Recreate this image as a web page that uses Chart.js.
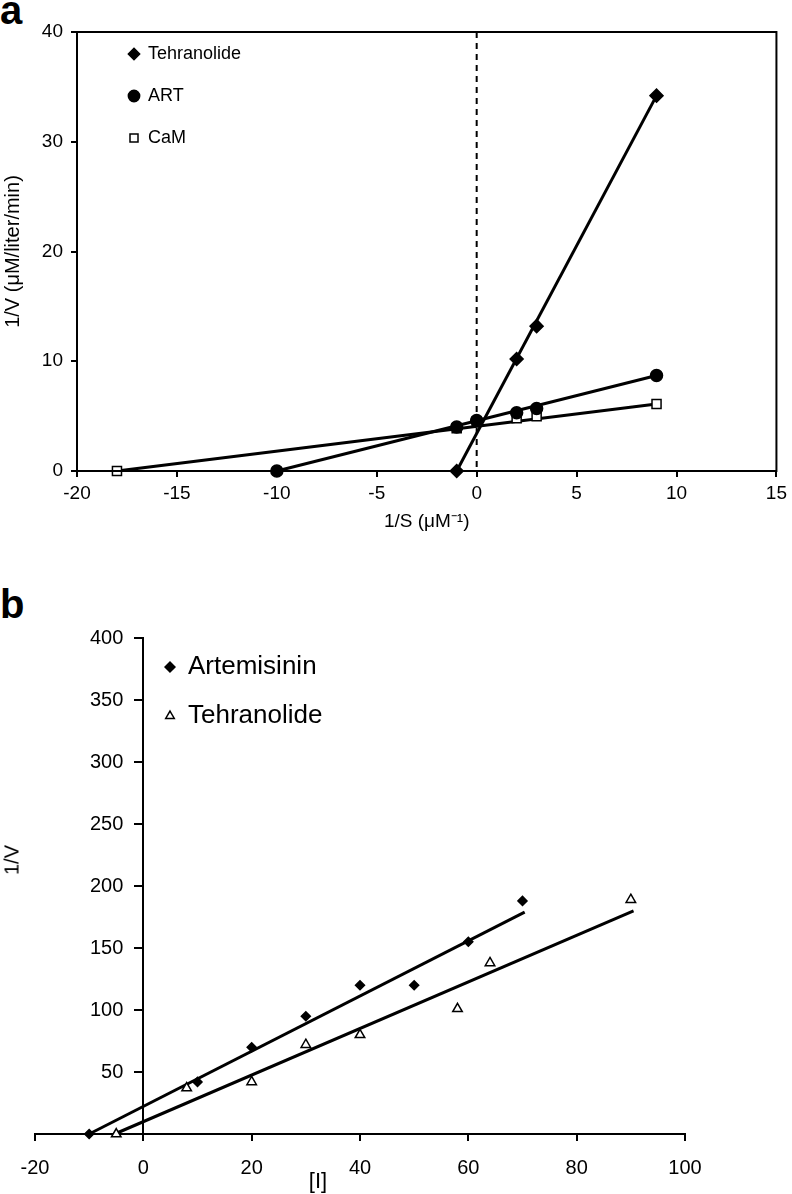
<!DOCTYPE html>
<html>
<head>
<meta charset="utf-8">
<script src="https://cdn.jsdelivr.net/npm/chart.js@4.4.1/dist/chart.umd.min.js"></script>
<style>
  body { margin: 0; background: #fff; width: 792px; height: 1194px; position: relative; overflow: hidden;
         font-family: "Liberation Sans", Arial, sans-serif; color: #000; }
  .tag { position: absolute; left: 0; font-weight: bold; font-size: 40px; line-height: 1; }
  canvas { position: absolute; left: 0; }
  #chartA { top: 0; }
  #chartB { top: 590px; }
  .ttl { position: absolute; transform: translate(-50%, -50%); white-space: nowrap; }
</style>
</head>
<body>
<div class="tag" style="top:-10px">a</div>
<div class="tag" style="top:584px">b</div>
<canvas id="chartA" width="792" height="535"></canvas>
<canvas id="chartB" width="792" height="604"></canvas>
<div class="ttl" style="left:12px;top:860px;font-size:20px;transform:translate(-50%,-50%) rotate(-90deg)">1/V</div>
<div class="ttl" style="left:318px;top:1181px;font-size:22px">[I]</div>
<script>
// ---- panel a : 1/V against 1/S ----
const seriesA = ["Tehranolide", "ART", "CaM"];
const tehX = [-1, 2, 3, 9];
const tehY = [0, 10.2, 13.2, 34.2];
const artX = [-10, -1, 0, 2, 3, 9];
const artY = [0, 4.0, 4.6, 5.3, 5.7, 8.7];
const camX = [-18, -1, 0, 2, 3, 9];
const camY = [0, 3.9, 4.5, 4.8, 5.0, 6.1];
// regression lines (end points)
const tehFitX = [-1, 9],  tehFitY = [0, 34.2];
const artFitX = [-10, 9], artFitY = [0, 8.7];
const camFitX = [-18, 9], camFitY = [0, 6.1];
const refX = 0; // dashed line

// ---- panel b : 1/V against [I] ----
const seriesB = ["Artemisinin", "Tehranolide"];
const artmX = [-10, 10, 20, 30, 40, 50, 60, 70];
const artmY = [0, 42, 70, 95, 120, 120, 155, 188];
const tehbX = [-5, 8, 20, 30, 40, 58, 64, 90];
const tehbY = [0, 37, 42, 72, 80, 101, 138, 189];
const artmFitX = [-10, 70.4], artmFitY = [0, 179];
const tehbFitX = [-5.3, 90.5], tehbFitY = [0, 180];

Chart.defaults.font.family = '"Liberation Sans", Arial, sans-serif';
Chart.defaults.color = "#000";

const pts = (xs, ys) => xs.map((x, i) => ({ x: x, y: ys[i] }));

function marks(label, xs, ys, style, fill, r) {
    return {
        label: label, data: pts(xs, ys), showLine: false, clip: false,
        pointStyle: style, pointRadius: r, pointHoverRadius: r,
        pointBackgroundColor: fill, pointBorderColor: "#000", pointBorderWidth: 1.5
    };
}

function fit(xs, ys) {
    return {
        label: "", data: pts(xs, ys), showLine: true, clip: false,
        borderColor: "#000", borderWidth: 3, pointRadius: 0, pointHoverRadius: 0
    };
}

// moves the legend to a spot inside the plot
function legendAt(x, y) {
    return {
        id: "legendAt",
        afterLayout(chart) {
            const lg = chart.legend;
            const w = lg.width, h = lg.height;
            lg.left = x; lg.top = y; lg.right = x + w; lg.bottom = y + h;
        }
    };
}

const frame = {
    id: "frame",
    afterDraw(chart) {
        const { ctx, chartArea: a } = chart;
        ctx.save();
        ctx.strokeStyle = "#000";
        ctx.lineWidth = 2;
        ctx.strokeRect(a.left, a.top, a.right - a.left, a.bottom - a.top);
        ctx.restore();
    }
};

const dashed = {
    id: "dashed",
    beforeDatasetsDraw(chart) {
        const { ctx, chartArea: a, scales } = chart;
        const px = scales.x.getPixelForValue(refX);
        ctx.save();
        ctx.strokeStyle = "#000";
        ctx.lineWidth = 2;
        ctx.setLineDash([6, 5]);
        ctx.beginPath();
        ctx.moveTo(px, a.top);
        ctx.lineTo(px, a.bottom);
        ctx.stroke();
        ctx.restore();
    }
};

// y axis sitting at x = 0 puts its labels right on the line; push them left
function shiftLabels(scale, dx) {
    if (scale._shifted) return;
    const orig = scale._computeLabelItems.bind(scale);
    scale._computeLabelItems = area => orig(area).map(it => {
        it.options.translation[0] -= dx;
        return it;
    });
    scale._shifted = true;
}

const axisLook = {
    grid: { drawOnChartArea: false, color: "#000", lineWidth: 2 },
    border: { color: "#000", width: 2 }
};

new Chart(document.getElementById("chartA"), {
    type: "scatter",
    data: {
        datasets: [
            marks(seriesA[0], tehX, tehY, "rectRot", "#000", 6.5),
            marks(seriesA[1], artX, artY, "circle", "#000", 6),
            marks(seriesA[2], camX, camY, "rect", "#fff", 6.4),
            fit(tehFitX, tehFitY),
            fit(artFitX, artFitY),
            fit(camFitX, camFitY)
        ]
    },
    options: {
        responsive: false,
        animation: false,
        layout: { padding: { top: 32, right: 8, left: 0, bottom: 0 } },
        plugins: {
            tooltip: { enabled: false },
            legend: {
                position: "chartArea",
                align: "start",
                labels: {
                    usePointStyle: true, boxWidth: 10, boxHeight: 8, padding: 24,
                    color: "#000", font: { size: 18 },
                    filter: item => item.text !== ""
                }
            }
        },
        scales: {
            x: {
                type: "linear", min: -20, max: 15,
                ticks: { stepSize: 5, font: { size: 19 }, padding: 5, maxRotation: 0 },
                grid: { ...axisLook.grid, tickLength: 6 },
                border: axisLook.border,
                title: { display: true, text: "1/S (μM⁻¹)", font: { size: 19 }, padding: { top: 0, bottom: 2 } },
                afterFit: s => { s.height = 64; }
            },
            y: {
                type: "linear", min: 0, max: 40,
                ticks: { stepSize: 10, font: { size: 19 }, padding: 8 },
                grid: { ...axisLook.grid, tickLength: 6 },
                border: axisLook.border,
                title: { display: true, text: "1/V (μM/liter/min)", font: { size: 20 }, padding: { top: 1, bottom: 0 } },
                afterFit: s => { s.width = 77; }
            }
        }
    },
    plugins: [legendAt(105, 21), frame, dashed]
});

new Chart(document.getElementById("chartB"), {
    type: "scatter",
    data: {
        datasets: [
            marks(seriesB[0], artmX, artmY, "rectRot", "#000", 4.5),
            marks(seriesB[1], tehbX, tehbY, "triangle", "#fff", 5.5),
            fit(artmFitX, artmFitY),
            fit(tehbFitX, tehbFitY)
        ]
    },
    options: {
        responsive: false,
        animation: false,
        layout: { padding: { top: 48, right: 107, left: 35, bottom: 0 } },
        plugins: {
            tooltip: { enabled: false },
            legend: {
                position: "chartArea",
                align: "start",
                labels: {
                    usePointStyle: true, boxWidth: 10, boxHeight: 7, padding: 23,
                    color: "#000", font: { size: 26 },
                    filter: item => item.text !== ""
                }
            }
        },
        scales: {
            x: {
                type: "linear", min: -20, max: 100,
                ticks: { stepSize: 20, font: { size: 20 }, padding: 15, maxRotation: 0 },
                grid: { ...axisLook.grid, tickLength: 7 },
                border: axisLook.border,
                afterFit: s => { s.height = 60; }
            },
            y: {
                type: "linear", min: 0, max: 400, position: { x: 0 },
                ticks: { stepSize: 50, font: { size: 20 },
                         callback: v => (v === 0 ? "" : v) },
                grid: { ...axisLook.grid, tickLength: 8 },
                border: axisLook.border,
                afterUpdate: s => shiftLabels(s, 20)
            }
        }
    },
    plugins: [legendAt(142, 41)]
});
</script>
</body>
</html>
